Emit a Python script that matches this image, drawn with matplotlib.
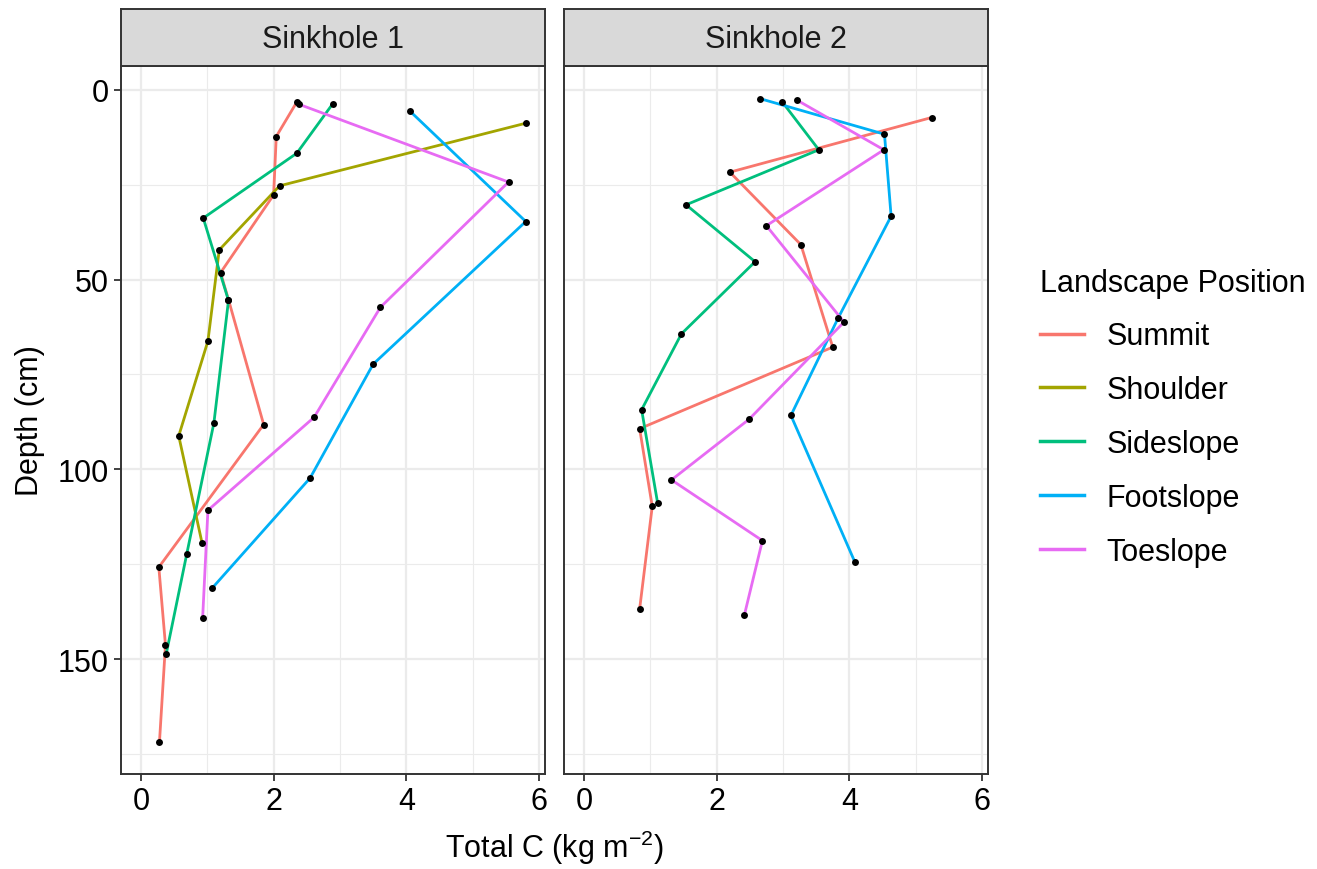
import matplotlib
matplotlib.use('Agg')

import matplotlib.pyplot as plt
from matplotlib.lines import Line2D

plt.rcParams['font.family'] = ['Liberation Sans', 'DejaVu Sans']
plt.rcParams['mathtext.fontset'] = 'custom'
plt.rcParams['mathtext.rm'] = 'Liberation Sans'
plt.rcParams['mathtext.it'] = 'Liberation Sans:italic'

positions = ['Summit', 'Shoulder', 'Sideslope', 'Footslope', 'Toeslope']
colors = ['#F8766D', '#A3A500', '#00BF7D', '#00B0F6', '#E76BF3']
panels = ['Sinkhole 1', 'Sinkhole 2']

# Sinkhole 1 (depth in cm, total C in kg m-2)
s1_summit_depth = [3.2, 12.3, 27.7, 48.2, 55.3, 88.2, 125.8, 146.3, 171.8]
s1_summit_c = [2.35, 2.04, 2.00, 1.20, 1.32, 1.85, 0.27, 0.37, 0.28]
s1_shoulder_depth = [8.8, 25.3, 42.2, 66.2, 91.2, 119.3]
s1_shoulder_c = [5.80, 2.09, 1.18, 1.01, 0.57, 0.92]
s1_sideslope_depth = [3.7, 16.7, 33.8, 55.5, 87.8, 122.4, 148.8]
s1_sideslope_c = [2.89, 2.35, 0.94, 1.32, 1.10, 0.69, 0.38]
s1_footslope_depth = [5.7, 34.7, 72.3, 102.3, 131.4]
s1_footslope_c = [4.06, 5.80, 3.50, 2.55, 1.07]
s1_toeslope_depth = [3.8, 24.3, 57.3, 86.3, 110.8, 139.3]
s1_toeslope_c = [2.38, 5.54, 3.61, 2.61, 1.01, 0.93]

# Sinkhole 2 (no shoulder profile)
s2_summit_depth = [7.3, 21.7, 40.8, 67.8, 89.3, 109.8, 136.8]
s2_summit_c = [5.24, 2.20, 3.27, 3.75, 0.84, 1.03, 0.84]
s2_sideslope_depth = [3.2, 15.8, 30.3, 45.3, 64.3, 84.3, 108.8]
s2_sideslope_c = [2.99, 3.54, 1.54, 2.58, 1.47, 0.87, 1.11]
s2_footslope_depth = [2.3, 11.7, 33.3, 60.2, 85.8, 124.3]
s2_footslope_c = [2.65, 4.53, 4.63, 3.83, 3.12, 4.08]
s2_toeslope_depth = [2.7, 15.8, 35.8, 61.2, 86.8, 102.8, 118.8, 138.3]
s2_toeslope_c = [3.21, 4.52, 2.75, 3.92, 2.49, 1.32, 2.69, 2.42]

data = {
    'Sinkhole 1': {
        'Summit': (s1_summit_c, s1_summit_depth),
        'Shoulder': (s1_shoulder_c, s1_shoulder_depth),
        'Sideslope': (s1_sideslope_c, s1_sideslope_depth),
        'Footslope': (s1_footslope_c, s1_footslope_depth),
        'Toeslope': (s1_toeslope_c, s1_toeslope_depth),
    },
    'Sinkhole 2': {
        'Summit': (s2_summit_c, s2_summit_depth),
        'Sideslope': (s2_sideslope_c, s2_sideslope_depth),
        'Footslope': (s2_footslope_c, s2_footslope_depth),
        'Toeslope': (s2_toeslope_c, s2_toeslope_depth),
    },
}

W, H = 1317, 870
FS = 22
fig = plt.figure(figsize=(W / 100, H / 100), dpi=100)

border = '#333333'
panel_left = [121, 564]
panel_w = 424
panel_top, panel_bot = 67.3, 775
strip_top = 10

for i, name in enumerate(panels):
    l = panel_left[i] / W
    b = 1 - panel_bot / H
    h = (panel_bot - panel_top) / H
    ax = fig.add_axes([l, b, panel_w / W, h])
    ax.set_axisbelow(True)

    # lines first, then points on top
    for pos, col in zip(positions, colors):
        if pos in data[name]:
            x, y = data[name][pos]
            ax.plot(x, y, color=col, lw=2.0, solid_capstyle='butt', zorder=2)
    for pos in positions:
        if pos in data[name]:
            x, y = data[name][pos]
            ax.plot(x, y, 'o', color='black', ms=5, mew=0, zorder=3)

    ax.set_xlim(-0.30, 6.09)
    ax.set_ylim(180.3, -6.2)
    ax.set_xticks([0, 2, 4, 6])
    ax.set_xticks([1, 3, 5], minor=True)
    ax.set_yticks([0, 50, 100, 150])
    ax.set_yticks([25, 75, 125, 175], minor=True)
    ax.grid(which='major', color='#EBEBEB', lw=1.6)
    ax.grid(which='minor', color='#EBEBEB', lw=0.8)
    ax.tick_params(which='minor', length=0)
    ax.tick_params(which='major', length=5, width=1.3, color=border,
                   labelsize=FS, labelcolor='black', pad=4)
    if i > 0:
        ax.tick_params(axis='y', left=False, labelleft=False)
    for s in ax.spines.values():
        s.set_color(border)
        s.set_linewidth(1.4)

    # facet strip
    sax = fig.add_axes([l, 1 - panel_top / H, panel_w / W, (panel_top - strip_top) / H])
    sax.set_facecolor('#D9D9D9')
    sax.set_xticks([])
    sax.set_yticks([])
    for s in sax.spines.values():
        s.set_color(border)
        s.set_linewidth(1.4)
    sax.text(0.5, 0.48, name, ha='center', va='center', fontsize=FS,
             color='#1A1A1A', transform=sax.transAxes)

fig.text(554.5 / W, 1 - 848 / H, r'Total C (kg m$^{-2}$)', ha='center',
         va='center', fontsize=FS)
fig.text(30 / W, 1 - 421 / H, 'Depth (cm)', ha='center', va='center',
         rotation=90, fontsize=FS)

handles = [Line2D([], [], color=c, lw=2.5) for c in colors]
leg = fig.legend(handles, positions, title='Landscape Position',
                 loc='upper left', bbox_to_anchor=(1012.5 / W, 1 - 241 / H),
                 frameon=False, fontsize=FS, title_fontsize=FS,
                 handlelength=1.45, handletextpad=0.72, labelspacing=0.78,
                 alignment='left')

plt.savefig('out.png', dpi=100)
plt.close()
